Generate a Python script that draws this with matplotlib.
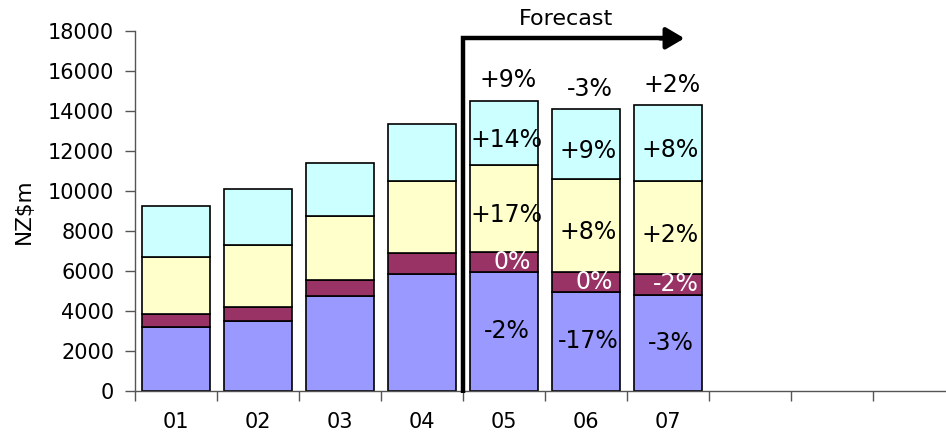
import numpy as np
import matplotlib.pyplot as plt

years = ['01', '02', '03', '04', '05', '06', '07']
n_slots = 10

blue = [3170, 3485, 4720, 5835, 5920, 4920, 4800]
maroon = [650, 715, 815, 1035, 1030, 1030, 1035]
yellow = [2850, 3085, 3200, 3615, 4350, 4620, 4635]
cyan = [2565, 2785, 2665, 2865, 3200, 3515, 3815]

# growth labels for the forecast years (05-07)
blue_pct = ['-2%', '-17%', '-3%']
maroon_pct = ['0%', '0%', '-2%']
yellow_pct = ['+17%', '+8%', '+2%']
cyan_pct = ['+14%', '+9%', '+8%']
total_pct = ['+9%', '-3%', '+2%']

colors = ['#9999ff', '#993366', '#ffffcc', '#ccffff']

plt.rcParams['font.family'] = 'DejaVu Sans'

fig = plt.figure(figsize=(9.46, 4.33), dpi=100)
ax = fig.add_axes([135 / 946, 42.3 / 433, 820 / 946, 360 / 433])

x = np.arange(len(years))
w = 0.83
series = [blue, maroon, yellow, cyan]
bottom = np.zeros(len(years))
bottoms = []
for vals, c in zip(series, colors):
    ax.bar(x, vals, w, bottom=bottom, color=c, edgecolor='black', linewidth=1.2, zorder=2)
    bottoms.append(bottom.copy())
    bottom = bottom + np.array(vals)

# percentage labels on forecast bars
fc = x[4:]
pct_rows = [blue_pct, maroon_pct, yellow_pct, cyan_pct]
for k, (vals, labels) in enumerate(zip(series, pct_rows)):
    for j, i in enumerate(fc):
        mid = bottoms[k][i] + vals[i] / 2
        col = 'white' if k == 1 else 'black'
        dx = 0.1 if k == 1 else 0.03
        dy = -5 if k >= 2 else 0
        ax.annotate(labels[j], (i + dx, mid), xytext=(0, dy), textcoords='offset points',
                    ha='center', va='center', fontsize=17, color=col, zorder=3)
for j, i in enumerate(fc):
    ax.annotate(total_pct[j], (i + 0.05, bottom[i]), xytext=(0, 6), textcoords='offset points',
                ha='center', va='bottom', fontsize=17)

# forecast arrow
ax.plot([3.5, 3.5, 6.0], [-130, 17620, 17620], color='black', lw=3.2,
        solid_joinstyle='miter', solid_capstyle='butt', clip_on=False, zorder=4)
ax.annotate('', xy=(6.2, 17620), xytext=(5.9, 17620),
            arrowprops=dict(arrowstyle='-|>,head_length=1.1,head_width=0.65',
                            lw=3.2, color='black', shrinkA=0, shrinkB=0),
            annotation_clip=False)
ax.text(4.76, 18600, 'Forecast', ha='center', va='center', fontsize=16)

ax.set_xlim(-0.5, n_slots - 0.5)
ax.set_ylim(0, 18000)
ax.set_yticks(np.arange(0, 18001, 2000))
ax.set_xticks(np.arange(-0.5, n_slots, 1))
ax.set_xticklabels([])
ax.set_xticks(x, minor=True)
ax.set_xticklabels(years, minor=True)
ax.tick_params(axis='x', which='minor', length=0, pad=15, labelsize=15)
ax.tick_params(axis='x', which='major', length=7, width=1, color='#555555')
ax.tick_params(axis='y', length=7, width=1, color='#555555', labelsize=15, pad=8)
ax.set_ylabel('NZ$m', fontsize=15.5, labelpad=10)

for s in ['top', 'right']:
    ax.spines[s].set_visible(False)
for s in ['left', 'bottom']:
    ax.spines[s].set_color('#555555')
    ax.spines[s].set_linewidth(1)

fig.savefig('out.png', dpi=100)
